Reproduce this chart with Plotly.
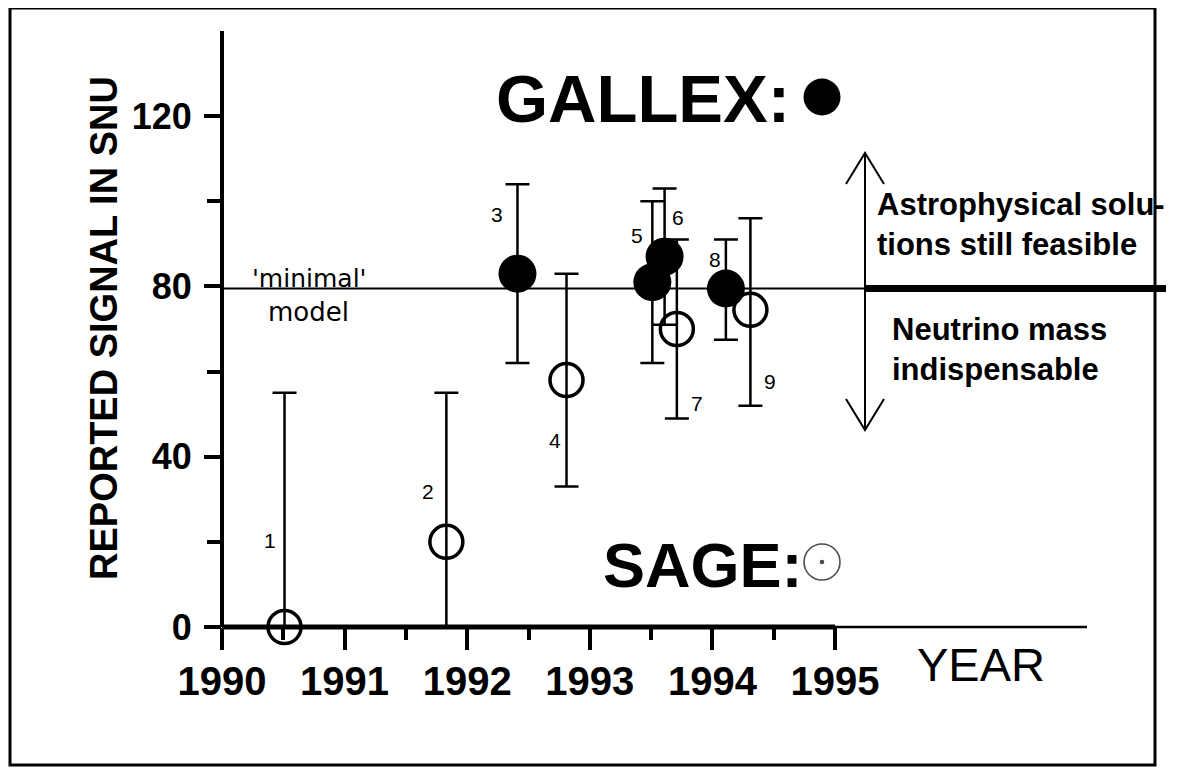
import plotly.graph_objects as go

# ---------------- data ----------------
gallex_year = [1992.41, 1993.51, 1993.61, 1994.11]
gallex_snu = [83, 81, 87, 79.5]
gallex_err_plus = [21, 19, 16, 11.5]
gallex_err_minus = [21, 19, 16, 12]
gallex_ids = ["3", "5", "6", "8"]

sage_year = [1990.51, 1991.83, 1992.81, 1993.71, 1994.31]
sage_snu = [0, 20, 58, 70, 74.5]
sage_err_plus = [55, 35, 25, 21, 21.5]
sage_err_minus = [0, 20, 25, 21, 22.5]
sage_ids = ["1", "2", "4", "7", "9"]

minimal_model = 79.5
year_ticks = [1990, 1991, 1992, 1993, 1994, 1995]
year_minor = [1990.5, 1991.5, 1992.5, 1993.5, 1994.5]
snu_ticks = [0, 40, 80, 120]
snu_minor = [20, 60, 100]

# ---------------- layout geometry (screen pixels of the reference) ----------------
OFF = 8                      # default page body margin
W, H = 1186 - OFF, 770 - OFF
L, R, T, B = 222, 1165, 31, 627
PW, PH = R - L, B - T
XPP, YPP = 122.6, 4.257      # pixels per year / per SNU
X0, X1 = 1990, 1990 + PW / XPP
Y0, Y1 = 0, PH / YPP

def px(xpix):
    return (xpix - L) / PW

def py(ypix):
    return (B - ypix) / PH

def dx(xpix):
    return X0 + (xpix - L) / XPP

def dy(ypix):
    return (B - ypix) / YPP

def xp(xv):   # data x -> paper x
    return (xv - X0) / (X1 - X0)

def yp(yv):   # data y -> paper y
    return (yv - Y0) / (Y1 - Y0)

FONT = "Liberation Sans, Arial, sans-serif"

fig = go.Figure()

fig.add_trace(go.Scatter(
    x=sage_year, y=sage_snu, mode="markers",
    marker=dict(symbol="circle-open", size=33, color="black", line=dict(width=3.5, color="black")),
    error_y=dict(type="data", symmetric=False, array=sage_err_plus, arrayminus=sage_err_minus,
                 color="black", thickness=2.5, width=12),
    cliponaxis=False, showlegend=False, hoverinfo="skip"))

fig.add_trace(go.Scatter(
    x=gallex_year, y=gallex_snu, mode="markers",
    marker=dict(symbol="circle", size=38, color="black"),
    error_y=dict(type="data", symmetric=False, array=gallex_err_plus, arrayminus=gallex_err_minus,
                 color="black", thickness=2.5, width=12),
    cliponaxis=False, showlegend=False, hoverinfo="skip"))

# legend symbols next to GALLEX / SAGE titles
fig.add_trace(go.Scatter(
    x=[dx(822)], y=[dy(97)], mode="markers",
    marker=dict(symbol="circle", size=37, color="black"),
    cliponaxis=False, showlegend=False, hoverinfo="skip"))
fig.add_trace(go.Scatter(
    x=[dx(822)] * 2, y=[dy(562)] * 2, mode="markers",
    marker=dict(symbol=["circle-open", "circle"], size=[36, 3], color="black",
                line=dict(width=1.6, color="black")),
    cliponaxis=False, showlegend=False, hoverinfo="skip"))

shapes = []
def pline(x0, y0, x1, y1, w):
    shapes.append(dict(type="line", xref="paper", yref="paper", x0=xp(x0), x1=xp(x1),
                       y0=yp(y0), y1=yp(y1), line=dict(color="black", width=w)))

# axes (paper-referenced so they are not clipped)
pline(X0, 0, X0, 140, 4)
pline(X0, 0, 1995, 0, 5)
pline(1995, 0, dx(1087), 0, 2.5)
# minimal model line: thin then thick
arrow_x = dx(865)
pline(X0, minimal_model, arrow_x, minimal_model, 2)
pline(arrow_x, minimal_model, dx(1166), minimal_model, 7)
# vertical double arrow
top, bot = dy(153), dy(430)
pline(arrow_x, bot, arrow_x, top, 2)
hx, hy = 19 / XPP, 31 / YPP
for yy, sgn in ((top, -1), (bot, 1)):
    shapes.append(dict(type="path", xref="paper", yref="paper",
                       path=f"M {xp(arrow_x-hx)},{yp(yy+sgn*hy)} L {xp(arrow_x)},{yp(yy)} L {xp(arrow_x+hx)},{yp(yy+sgn*hy)}",
                       line=dict(color="black", width=2)))
# outer frame
shapes.append(dict(type="rect", xref="paper", yref="paper", x0=px(10), x1=px(1155), y0=py(765), y1=py(8),
                   line=dict(color="black", width=3), fillcolor="rgba(0,0,0,0)"))

ann = []
def text(xpix, ypix, s, size, bold=False, xanchor="center", family=FONT, angle=0, align="center"):
    ann.append(dict(xref="paper", yref="paper", x=px(xpix), y=py(ypix), text=s, showarrow=False,
                    xanchor=xanchor, yanchor="middle", textangle=angle, align=align,
                    font=dict(family=family, size=size, color="black", weight="bold" if bold else "normal")))

text(792, 98, "GALLEX:", 67, bold=True, xanchor="right")
text(601, 565, "SAGE:", 63, bold=True, xanchor="left")
text(104, 328, "REPORTED SIGNAL IN SNU", 38, bold=True, angle=-90)
text(915, 664, "YEAR", 47, xanchor="left")
text(309, 278, "'minimal'", 25, family="DejaVu Sans, sans-serif")
text(308, 312, "model", 26, family="DejaVu Sans, sans-serif")
text(875, 224, "Astrophysical solu-<br>tions still feasible", 31, bold=True, xanchor="left", align="left")
text(890, 349, "Neutrino mass<br>indispensable", 31, bold=True, xanchor="left", align="left")

# point number labels, offset from their points in pixels
offsets = {"1": (-15, 87), "2": (-18, 50), "3": (-20, 59), "4": (-12, -60), "5": (-15, 47),
           "6": (13, 39), "7": (20, -74), "8": (-11, 29), "9": (20, -72)}
for xs, ys, ids in ((sage_year, sage_snu, sage_ids), (gallex_year, gallex_snu, gallex_ids)):
    for xv, yv, lab in zip(xs, ys, ids):
        ox, oy = offsets[lab]
        ann.append(dict(x=xv, y=yv, xref="x", yref="y", text=lab, showarrow=False,
                        xshift=ox, yshift=oy, font=dict(family=FONT, size=21, color="black")))

fig.update_layout(
    width=W, height=H, margin=dict(l=L - OFF, r=W - (R - OFF), t=T - OFF, b=H - (B - OFF)),
    paper_bgcolor="white", plot_bgcolor="white",
    shapes=shapes, annotations=ann,
    xaxis=dict(range=[X0, X1], showgrid=False, zeroline=False, showline=False,
               tickmode="array", tickvals=year_ticks, ticktext=[str(v) for v in year_ticks],
               ticks="outside", ticklen=22, tickwidth=4, tickcolor="black",
               tickfont=dict(family=FONT, size=40, color="black", weight="bold"),
               ticklabelstandoff=-3,
               minor=dict(tickmode="array", tickvals=year_minor, ticks="outside", ticklen=12,
                          tickwidth=4, tickcolor="black", showgrid=False)),
    yaxis=dict(range=[Y0, Y1], showgrid=False, zeroline=False, showline=False,
               tickmode="array", tickvals=snu_ticks, ticktext=[str(v) for v in snu_ticks],
               ticks="outside", ticklen=17, tickwidth=3.5, tickcolor="black",
               tickfont=dict(family=FONT, size=36, color="black", weight="bold"),
               ticklabelstandoff=5,
               minor=dict(tickmode="array", tickvals=snu_minor, ticks="outside", ticklen=14,
                          tickwidth=3.5, tickcolor="black", showgrid=False)),
)

fig.write_html("out.html", config={"displayModeBar": False})
